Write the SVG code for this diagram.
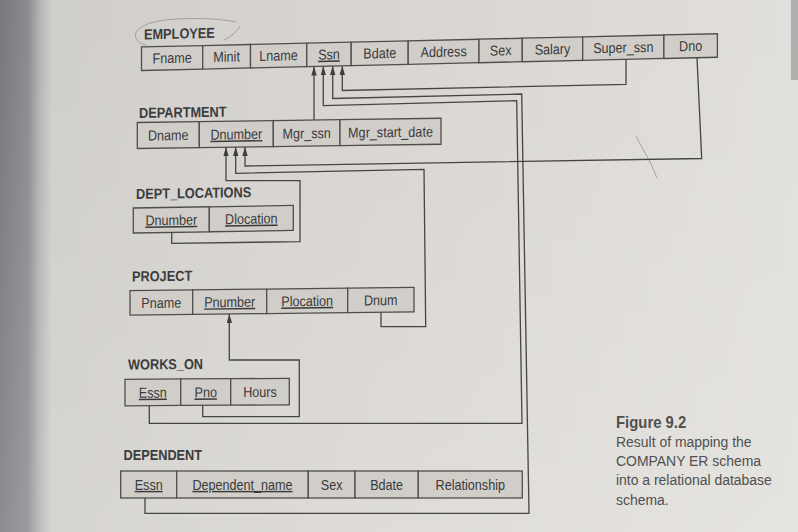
<svg xmlns="http://www.w3.org/2000/svg" width="798" height="532" viewBox="0 0 798 532">
<defs>
<linearGradient id="bg" x1="0" y1="0" x2="1" y2="0">
<stop offset="0" stop-color="#78777d"/>
<stop offset="0.035" stop-color="#8b8a8f"/>
<stop offset="0.05" stop-color="#b5b4b5"/>
<stop offset="0.065" stop-color="#d0cecb"/>
<stop offset="0.5" stop-color="#d9d6d2"/>
<stop offset="1" stop-color="#e1dfdb"/>
</linearGradient>
<linearGradient id="bgv" x1="0" y1="0" x2="0" y2="1">
<stop offset="0" stop-color="#ffffff" stop-opacity="0"/>
<stop offset="1" stop-color="#ffffff" stop-opacity="0.15"/>
</linearGradient>
<marker id="arr" viewBox="0 0 10 6" refX="10" refY="3" markerWidth="9" markerHeight="5.6" markerUnits="userSpaceOnUse" orient="auto">
<path d="M0,0 L10,3 L0,6 z" fill="#3e3e3e"/>
</marker>
<style>
.cell{fill:#d1cec9;stroke:#4e4e4e;stroke-width:1.3}
.t{font-family:"Liberation Sans",Arial,sans-serif;font-size:14.5px;fill:#3a3a3a;text-anchor:middle}
.u{text-decoration:underline}
.lbl{font-family:"Liberation Sans",Arial,sans-serif;font-size:14.5px;font-weight:bold;fill:#3c3c3c}
.c{fill:none;stroke:#454545;stroke-width:1.3;marker-end:url(#arr)}
.cap{font-family:"Liberation Sans",Arial,sans-serif;font-size:15.5px;fill:#505050}
.pen{fill:none;stroke:#8a8a90;stroke-width:1;opacity:0.7}
</style>
</defs>
<rect width="798" height="532" fill="url(#bg)"/>
<rect width="798" height="532" fill="url(#bgv)"/>
<rect x="791" y="0" width="7" height="80" fill="#8e8d90" opacity="0.6"/>

<g id="pen-marks">
<path class="pen" d="M146,45 C128,40 132,24 165,20 C195,17 222,19 236,22 M224,40 C232,36 237,31 240,26"/>
<path class="pen" d="M636,136 C642,148 650,160 657,178"/>
</g>

<g id="EMPLOYEE" transform="matrix(1,-0.023,0,1,0,3.243)">
<text class="lbl" transform="translate(144,39.5) scale(0.88,1)">EMPLOYEE</text>
<rect class="cell" x="141.5" y="47" width="61.2" height="23.5"/>
<rect class="cell" x="202.7" y="47" width="47.8" height="23.5"/>
<rect class="cell" x="250.5" y="47" width="56.3" height="23.5"/>
<rect class="cell" x="306.8" y="47" width="44.4" height="23.5"/>
<rect class="cell" x="351.2" y="47" width="57" height="23.5"/>
<rect class="cell" x="408.2" y="47" width="70.8" height="23.5"/>
<rect class="cell" x="479" y="47" width="43.3" height="23.5"/>
<rect class="cell" x="522.3" y="47" width="60.4" height="23.5"/>
<rect class="cell" x="582.7" y="47" width="81.2" height="23.5"/>
<rect class="cell" x="663.9" y="47" width="53.5" height="23.5"/>
<text class="t" transform="translate(172.1,63.7) scale(0.87,1)">Fname</text>
<text class="t" transform="translate(226.6,63.7) scale(0.87,1)">Minit</text>
<text class="t" transform="translate(278.6,63.7) scale(0.87,1)">Lname</text>
<text class="t u" transform="translate(329,63.7) scale(0.87,1)">Ssn</text>
<text class="t" transform="translate(379.7,63.7) scale(0.87,1)">Bdate</text>
<text class="t" transform="translate(443.6,63.7) scale(0.87,1)">Address</text>
<text class="t" transform="translate(500.6,63.7) scale(0.87,1)">Sex</text>
<text class="t" transform="translate(552.5,63.7) scale(0.87,1)">Salary</text>
<text class="t" transform="translate(623.3,63.7) scale(0.87,1)">Super_ssn</text>
<text class="t" transform="translate(690.6,63.7) scale(0.87,1)">Dno</text>
</g>

<g id="DEPARTMENT" transform="matrix(1,-0.014,0,1,0,1.918)">
<text class="lbl" transform="translate(139,118) scale(0.88,1)">DEPARTMENT</text>
<rect class="cell" x="137.3" y="122.5" width="62" height="26"/>
<rect class="cell" x="199.3" y="122.5" width="74" height="26"/>
<rect class="cell" x="273.3" y="122.5" width="66.7" height="26"/>
<rect class="cell" x="340" y="122.5" width="101" height="26"/>
<text class="t" transform="translate(168.3,140.7) scale(0.87,1)">Dname</text>
<text class="t u" transform="translate(236.3,140.7) scale(0.87,1)">Dnumber</text>
<text class="t" transform="translate(306.7,140.7) scale(0.87,1)">Mgr_ssn</text>
<text class="t" transform="translate(390.5,140.7) scale(0.87,1)">Mgr_start_date</text>
</g>

<g id="DEPT_LOCATIONS" transform="matrix(1,-0.016,0,1,0,2.133)">
<text class="lbl" transform="translate(136,199) scale(0.88,1)">DEPT_LOCATIONS</text>
<rect class="cell" x="133.3" y="208" width="76" height="25"/>
<rect class="cell" x="209.3" y="208" width="84" height="25"/>
<text class="t u" transform="translate(171.3,225.7) scale(0.87,1)">Dnumber</text>
<text class="t u" transform="translate(251.3,225.7) scale(0.87,1)">Dlocation</text>
</g>

<g id="PROJECT" transform="matrix(1,-0.012,0,1,0,1.56)">
<text class="lbl" transform="translate(132,281.5) scale(0.88,1)">PROJECT</text>
<rect class="cell" x="130" y="290.7" width="62.7" height="24.5"/>
<rect class="cell" x="192.7" y="290.7" width="74" height="24.5"/>
<rect class="cell" x="266.7" y="290.7" width="81" height="24.5"/>
<rect class="cell" x="347.7" y="290.7" width="66.3" height="24.5"/>
<text class="t" transform="translate(161.3,308.2) scale(0.87,1)">Pname</text>
<text class="t u" transform="translate(229.7,308.2) scale(0.87,1)">Pnumber</text>
<text class="t u" transform="translate(307.2,308.2) scale(0.87,1)">Plocation</text>
<text class="t" transform="translate(380.8,308.2) scale(0.87,1)">Dnum</text>
</g>

<g id="WORKS_ON" transform="matrix(1,-0.006,0,1,0,0.75)">
<text class="lbl" transform="translate(128,369.5) scale(0.88,1)">WORKS_ON</text>
<rect class="cell" x="125" y="379.3" width="55.7" height="26.5"/>
<rect class="cell" x="180.7" y="379.3" width="50" height="26.5"/>
<rect class="cell" x="230.7" y="379.3" width="58.6" height="26.5"/>
<text class="t u" transform="translate(152.8,397.8) scale(0.87,1)">Essn</text>
<text class="t u" transform="translate(205.7,397.8) scale(0.87,1)">Pno</text>
<text class="t" transform="translate(260,397.8) scale(0.87,1)">Hours</text>
</g>

<g id="DEPENDENT">
<text class="lbl" transform="translate(123.5,460) scale(0.88,1)">DEPENDENT</text>
<rect class="cell" x="120.7" y="471" width="56" height="27"/>
<rect class="cell" x="176.7" y="471" width="131.6" height="27"/>
<rect class="cell" x="308.3" y="471" width="46.7" height="27"/>
<rect class="cell" x="355" y="471" width="63.3" height="27"/>
<rect class="cell" x="418.3" y="471" width="104" height="27"/>
<text class="t u" transform="translate(148.7,489.8) scale(0.87,1)">Essn</text>
<text class="t u" transform="translate(242.5,489.8) scale(0.87,1)">Dependent_name</text>
<text class="t" transform="translate(331.6,489.8) scale(0.87,1)">Sex</text>
<text class="t" transform="translate(386.6,489.8) scale(0.87,1)">Bdate</text>
<text class="t" transform="translate(470.3,489.8) scale(0.87,1)">Relationship</text>
</g>

<g id="connectors">
<path class="c" d="M314,120 V66.5"/>
<path class="c" d="M626,59.4 V84.3 L342.3,90.5 V65.9"/>
<path class="c" d="M145,498 V513.3 H529 L521.7,94 L332.7,98.5 V66.1"/>
<path class="c" d="M149.3,405.6 V423.3 H522 L516.7,100.7 L323.3,105.7 V66.3"/>
<path class="c" d="M697,57.7 L701.7,158.5 L245,166 V147"/>
<path class="c" d="M381,312.2 V326.7 H425.7 L424,169.3 L235.7,173.3 V147.1"/>
<path class="c" d="M171.7,232.4 V243.3 L300,241.7 V180.7 H226 V147.3"/>
<path class="c" d="M202.7,405.3 V416.7 H299.3 V360 H229.3 V314"/>
</g>

<g id="caption">
<text class="cap" transform="translate(616,428) scale(0.93,1)" font-weight="bold" style="font-size:16px">Figure 9.2</text>
<text class="cap" transform="translate(616,446.7) scale(0.9,1)">Result of mapping the</text>
<text class="cap" transform="translate(616,466.3) scale(0.9,1)">COMPANY ER schema</text>
<text class="cap" transform="translate(616,485.3) scale(0.9,1)">into a relational database</text>
<text class="cap" transform="translate(616,505) scale(0.9,1)">schema.</text>
</g>
</svg>
